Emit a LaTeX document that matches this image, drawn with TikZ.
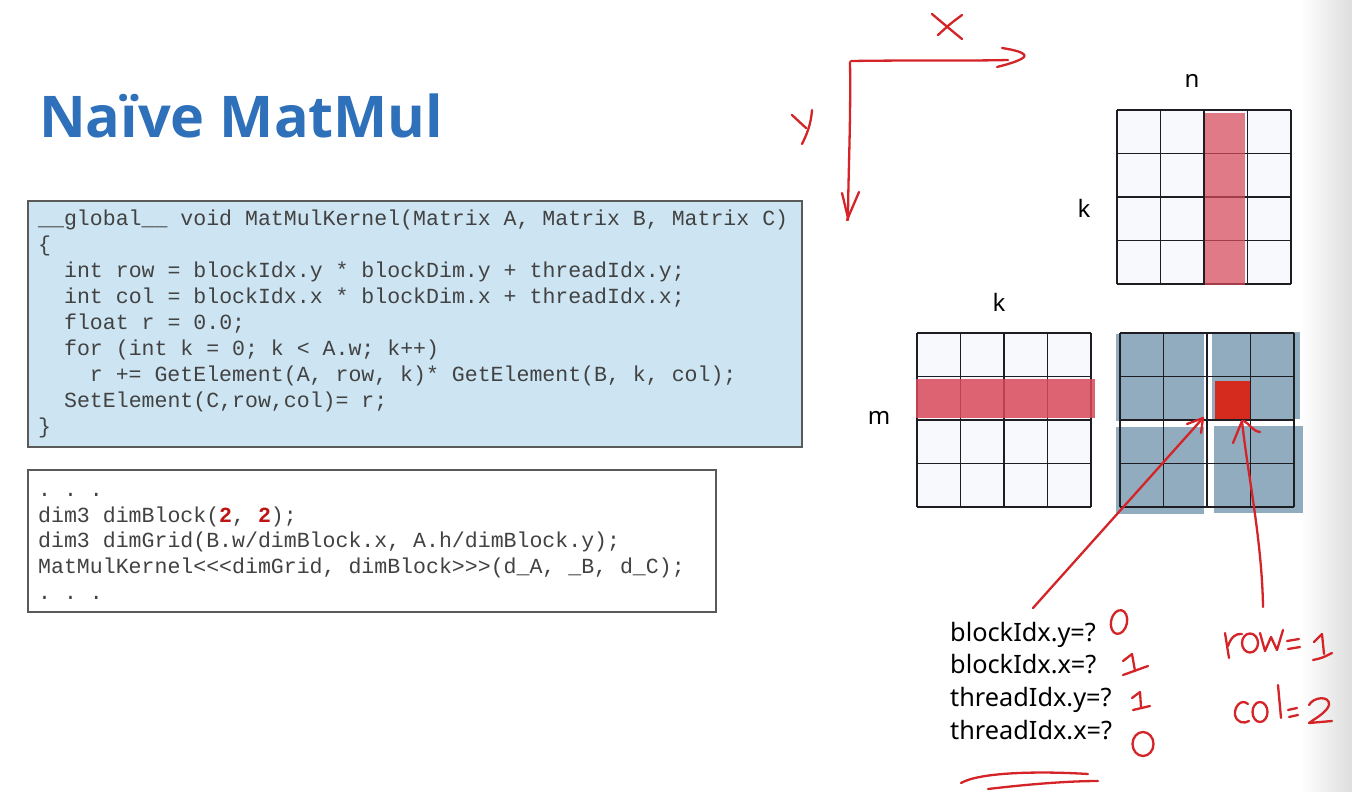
\documentclass[tikz,border=0pt]{standalone}
\usepackage{fontspec}
\setmainfont{Noto Sans}
\newfontfamily\titlefont{Open Sans}
\newfontfamily\codefont{Liberation Mono}
\definecolor{titleblue}{RGB}{46,112,185}
\definecolor{codebg}{RGB}{205,229,243}
\definecolor{codeframe}{RGB}{90,90,90}
\definecolor{codegray}{RGB}{66,66,66}
\definecolor{codered}{RGB}{192,20,20}
\definecolor{inkred}{RGB}{212,36,40}
\definecolor{cellfill}{RGB}{247,249,252}
\definecolor{hired}{RGB}{217,73,90}
\definecolor{blockblue}{RGB}{145,172,191}
\definecolor{cellred}{RGB}{213,43,30}
\definecolor{gridcol}{RGB}{30,30,34}
\begin{document}
\begin{tikzpicture}[x=1pt,y=-1pt,
  hand/.style={draw=inkred, line width=2.3pt, line cap=round, line join=round},
  gridline/.style={draw=gridcol, line width=1.5pt},
  codeline/.style={anchor=base west, inner sep=0pt, text=codegray,
    font=\codefont\fontsize{21.55}{26}\selectfont\frenchspacing},
  axislabel/.style={inner sep=0pt, font=\fontsize{24}{28}\selectfont},
  qtext/.style={anchor=base west, inner sep=0pt, font=\fontsize{25.3}{30}\selectfont}]

% page and soft right edge
\fill[white] (0,0) rectangle (1352,792);
\shade[left color=white, right color=black!13] (1300,0) rectangle (1352,792);
\useasboundingbox (0,0) rectangle (1352,792);

% title
\node[anchor=base west, inner sep=0pt, text=titleblue,
  font=\titlefont\bfseries\fontsize{57.5}{68}\selectfont] (title) at (39,137) {Naïve MatMul};

% kernel listing
\draw[codeframe, fill=codebg, line width=1.3pt] (28,201) rectangle (802,447);
\node[codeline] (k1) at (38,225) {\_\_global\_\_ void MatMulKernel(Matrix A, Matrix B, Matrix C)};
\node[codeline] (k2) at (38,251) {\{};
\node[codeline] (k3) at (63.9,277) {int row = blockIdx.y * blockDim.y + threadIdx.y;};
\node[codeline] (k4) at (63.9,303) {int col = blockIdx.x * blockDim.x + threadIdx.x;};
\node[codeline] (k5) at (63.9,329) {float r = 0.0;};
\node[codeline] (k6) at (63.9,355) {for (int k = 0; k < A.w; k++)};
\node[codeline] (k7) at (89.7,381) {r += GetElement(A, row, k)* GetElement(B, k, col);};
\node[codeline] (k8) at (63.9,407) {SetElement(C,row,col)= r;};
\node[codeline] (k9) at (38,433) {\}};

% launch listing
\draw[codeframe, fill=white, line width=1.3pt] (28,470) rectangle (716,612);
\node[codeline] (l1) at (38,496) {. . .};
\node[codeline] (l2) at (38,522) {dim3 dimBlock({\color{codered}\bfseries 2}, {\color{codered}\bfseries 2});};
\node[codeline] (l3) at (38,547.5) {dim3 dimGrid(B.w/dimBlock.x, A.h/dimBlock.y);};
\node[codeline] (l4) at (38,573) {MatMulKernel<{}<{}<dimGrid, dimBlock>{}>{}>(d\_A, \_B, d\_C);};
\node[codeline] (l5) at (38,599) {. . .};

% matrix B (k x n) with highlighted column
\fill[cellfill] (1117,110) rectangle (1291,284);
\foreach \i in {0,...,4} {
  \draw[gridline] (1117+43.5*\i,110) -- (1117+43.5*\i,284);
  \draw[gridline] (1117,110+43.5*\i) -- (1291,110+43.5*\i);
}
\fill[hired, opacity=0.72] (1205,113) rectangle (1245,285);
\node[axislabel] (nB) at (1192,81) {n};
\node[axislabel] (kB) at (1084,208) {k};

% matrix A (m x k) with highlighted row
\fill[cellfill] (917,333) rectangle (1091,507);
\foreach \i in {0,...,4} {
  \draw[gridline] (917+43.5*\i,333) -- (917+43.5*\i,507);
  \draw[gridline] (917,333+43.5*\i) -- (1091,333+43.5*\i);
}
\fill[hired, opacity=0.85] (916,379) rectangle (1095,418);
\node[axislabel] (kA) at (999,302) {k};
\node[axislabel] (mA) at (879,418) {m};

% matrix C split into 2x2 thread blocks
\fill[white] (1120,333) rectangle (1294,507);
\fill[blockblue] (1116,334) rectangle (1204,421);
\fill[blockblue] (1212,332) rectangle (1300,419);
\fill[blockblue] (1116,427) rectangle (1204,514);
\fill[blockblue] (1214,426) rectangle (1303,513);
\fill[cellred] (1215,381) rectangle (1251,419);
\foreach \i in {0,...,4} {
  \draw[gridline] (1120+43.5*\i,333) -- (1120+43.5*\i,507);
  \draw[gridline] (1120,333+43.5*\i) -- (1294,333+43.5*\i);
}

% index questions
\node[qtext] (q1) at (950,641) {blockIdx.y=?};
\node[qtext] (q2) at (950,673.5) {blockIdx.x=?};
\node[qtext] (q3) at (950,706) {threadIdx.y=?};
\node[qtext] (q4) at (950,739) {threadIdx.x=?};

% hand-drawn axes
\draw[hand] (851,61) .. controls (920,60) and (970,61) .. (1008,60);
\draw[hand] (1002,48) .. controls (1015,50) and (1027,53) .. (1024,57) .. controls (1020,61) and (1005,65) .. (997,67);
\draw[hand] (850,62) .. controls (851,120) and (848,180) .. (848,220);
\draw[hand] (842,193) -- (848,218);
\draw[hand] (859,192) -- (847,220);
\draw[hand] (932,14) .. controls (945,25) .. (962,39);
\draw[hand] (962,15) .. controls (950,24) .. (938,35);
\draw[hand] (792,115) -- (806,128);
\draw[hand] (812,110) .. controls (811,125) and (806,136) .. (802,144);

% hand-drawn pointers into C
\coordinate (blockcorner) at (1203,418);
\coordinate (threadcell) at (1242,421);
\draw[hand] (1033,608) -- (blockcorner);
\draw[hand] (1187,424) -- (blockcorner) -- (1201,433);
\draw[hand] (1263,607) .. controls (1262,540) and (1247,470) .. (threadcell);
\draw[hand] (1233,443) -- (threadcell);
\draw[hand] (1244,421) .. controls (1250,424) and (1252,431) .. (1260,432);

% hand-written answers
\draw[hand, rotate around={-12:(1119,622)}] (1119,622) ellipse [x radius=8, y radius=12];
\draw[hand] (1123,661) -- (1132,654) -- (1135,671);
\draw[hand] (1123,675) .. controls (1135,671) .. (1148,666);
\draw[hand] (1132,698) -- (1140,692) -- (1141,707);
\draw[hand] (1133,710) -- (1150,706);
\draw[hand] (1143,744) ellipse [x radius=10.5, y radius=12];

% row = 1
\draw[hand] (1225,633) -- (1229,658);
\draw[hand] (1228,646) .. controls (1231,637) and (1236,633) .. (1242,634);
\draw[hand] (1250,643) ellipse [x radius=8, y radius=9.5];
\draw[hand] (1260,633) -- (1265,651) -- (1271,637) -- (1277,650) -- (1283,630);
\draw[hand] (1287,641) -- (1299,639);
\draw[hand] (1288,649) -- (1300,647);
\draw[hand] (1314,642) -- (1322,634) -- (1324,654);
\draw[hand] (1313,660) .. controls (1322,658) .. (1332,653);

% col = 2
\draw[hand] (1248,704) .. controls (1241,698) and (1234,707) .. (1235,715) .. controls (1237,723) and (1244,724) .. (1249,721);
\draw[hand] (1260,712) ellipse [x radius=7.5, y radius=10];
\draw[hand] (1278,685) -- (1281,718);
\draw[hand] (1288,710) -- (1297,708);
\draw[hand] (1289,717) -- (1298,715);
\draw[hand] (1309,705) .. controls (1313,697) and (1330,695) .. (1329,705) .. controls (1327,712) and (1316,718) .. (1309,723) -- (1332,721);

% scribbled underline
\draw[hand] (961,783) .. controls (980,772) and (1040,771) .. (1088,774);
\draw[hand] (988,789) .. controls (1030,784) and (1070,781) .. (1098,781);
\end{tikzpicture}
\end{document}
